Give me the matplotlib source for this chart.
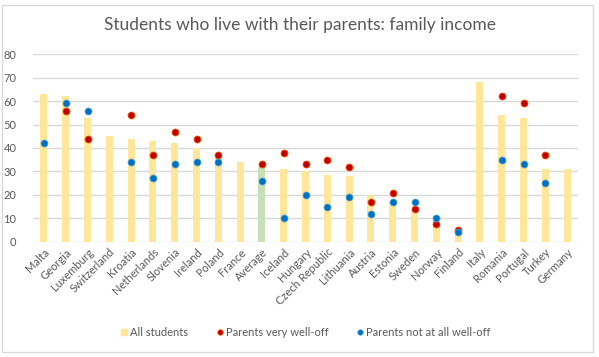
import matplotlib.pyplot as plt
import numpy as np
from matplotlib.patches import Rectangle
from matplotlib.lines import Line2D

plt.rcParams['font.family'] = ['Lato', 'DejaVu Sans']

countries = ['Malta', 'Georgia', 'Luxemburg', 'Switzerland', 'Kroatia', 'Netherlands',
             'Slovenia', 'Ireland', 'Poland', 'France', 'Average', 'Iceland', 'Hungary',
             'Czech Republic', 'Lithuania', 'Austria', 'Estonia', 'Sweden', 'Norway',
             'Finland', 'Italy', 'Romania', 'Portugal', 'Turkey', 'Germany']
all_students = [63, 62, 53, 45, 44, 43, 42, 40, 36, 34, 32, 31, 30,
                28.5, 28, 20, 17, 14, 7, 4, 68, 54, 53, 31, 31]
very_well_off = [None, 56, 44, None, 54, 37, 47, 44, 37, None, 33, 38, 33,
                 35, 32, 17, 21, 14, 7.5, 5, None, 62, 59, 37, None]
not_well_off = [42, 59, 56, None, 34, 27, 33, 34, 34, None, 26, 10, 20,
                15, 19, 12, 17, 17, 10, 4, None, 35, 33, 25, None]

grey = '#595959'
fig = plt.figure(figsize=(5.99, 3.57), dpi=100)
fig.patches.append(Rectangle((2 / 599, 1 - 352 / 357), 591 / 599, 347 / 357,
                             transform=fig.transFigure, fill=False,
                             edgecolor='#d9d9d9', linewidth=1))
ax = fig.add_axes([33 / 599, 1 - 241.7 / 357, 545 / 599, 187.4 / 357])

x = np.arange(len(countries))
colors = ['#c5e0b4' if c == 'Average' else '#ffe699' for c in countries]
ax.bar(x, all_students, width=0.32, color=colors, zorder=2)

def pts(vals):
    xs = [i for i, v in enumerate(vals) if v is not None]
    return xs, [vals[i] for i in xs]

rx, ry = pts(very_well_off)
bx, by = pts(not_well_off)
ax.scatter(rx, ry, s=26, color='#c00000', edgecolors='#ff6600', linewidths=0.5, zorder=3)
ax.scatter(bx, by, s=26, color='#0070c0', edgecolors='#66aadd', linewidths=0.5, zorder=4)

ax.set_xlim(-0.5, len(countries) - 0.5)
ax.set_ylim(0, 80)
ax.set_yticks(range(0, 81, 10))
ax.yaxis.grid(True, color='#d9d9d9', linewidth=1)
ax.set_axisbelow(True)
for s in ax.spines.values():
    s.set_visible(False)
ax.tick_params(axis='both', length=0, colors=grey, labelsize=8)
ax.tick_params(axis='y', pad=12)
ax.set_xticks(x)
ax.set_xticklabels(countries, rotation=45, ha='right', rotation_mode='anchor')

fig.text(0.5, 1 - 25 / 357, 'Students who live with their parents: family income',
         ha='center', va='center', fontsize=12.5, color=grey)

handles = [Line2D([], [], marker='s', linestyle='', color='#ffe699', markersize=5),
           Line2D([], [], marker='o', linestyle='', color='#c00000',
                  markeredgecolor='#ff6600', markeredgewidth=0.5, markersize=4),
           Line2D([], [], marker='o', linestyle='', color='#0070c0',
                  markeredgecolor='#66aadd', markeredgewidth=0.5, markersize=4)]
fig.legend(handles, ['All students', 'Parents very well-off', 'Parents not at all well-off'],
           loc='center', bbox_to_anchor=(305 / 599, 1 - 332 / 357), ncol=3, frameon=False,
           fontsize=8, labelcolor=grey, handletextpad=0.1, columnspacing=2.4,
           handlelength=0.9)

fig.savefig('out.png', dpi=100)
